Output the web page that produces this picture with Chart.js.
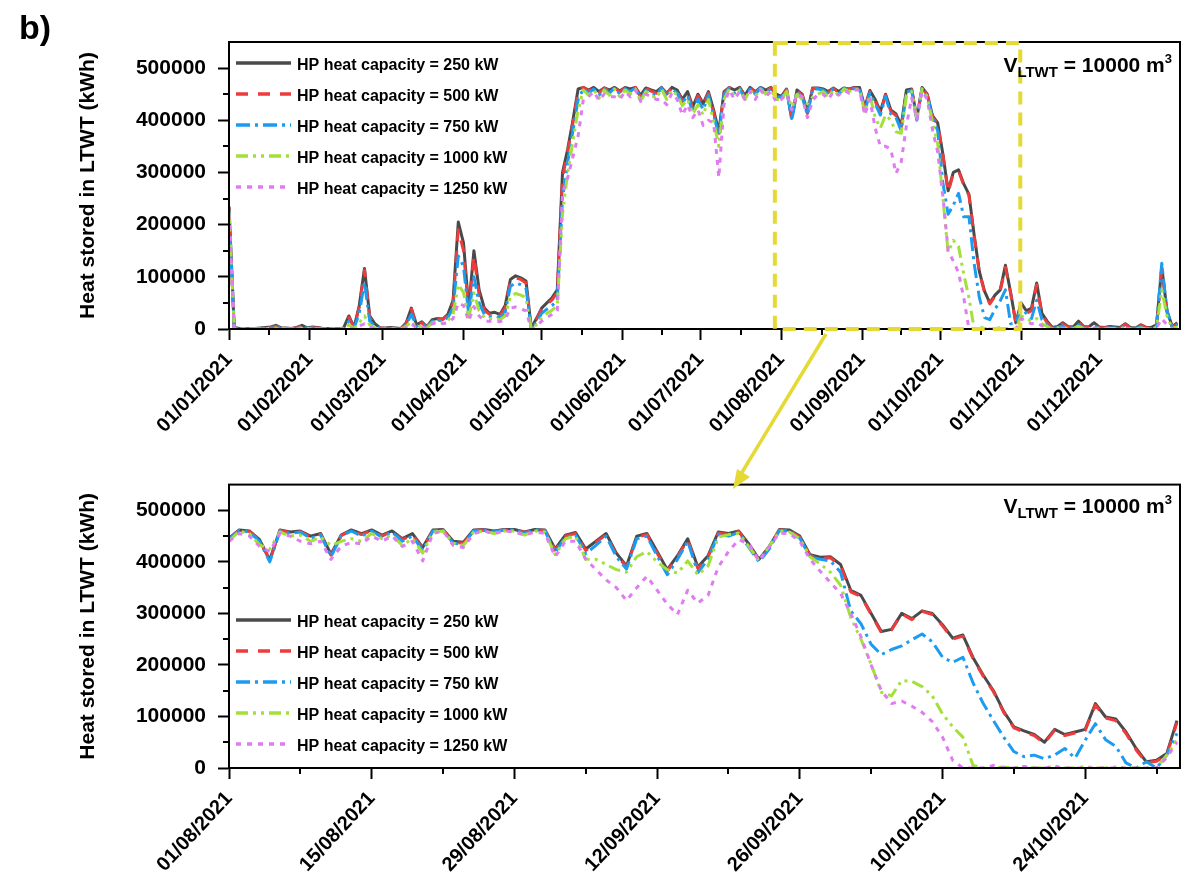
<!DOCTYPE html>
<html>
<head>
<meta charset="utf-8">
<title>Heat stored in LTWT</title>
<script src="https://cdn.jsdelivr.net/npm/chart.js@4.4.0/dist/chart.umd.min.js"></script>
<style>
    html, body { margin: 0; padding: 0; background: #ffffff; }
    #page { position: relative; width: 1194px; height: 886px; overflow: hidden; }
    .chart-box { position: absolute; left: 0; width: 1194px; }
    #yearBox { top: 0; height: 460px; }
    #zoomBox { top: 460px; height: 426px; }
    #arrow { position: absolute; left: 0; top: 0; pointer-events: none; }
</style>
</head>
<body>
<div id="page">
    <div class="chart-box" id="yearBox"><canvas id="yearChart" width="1194" height="460"></canvas></div>
    <div class="chart-box" id="zoomBox"><canvas id="zoomChart" width="1194" height="426"></canvas></div>
    <svg id="arrow" width="1194" height="886">
        <line x1="826" y1="334" x2="741" y2="474" stroke="#e5d935" stroke-width="3.5"/>
        <polygon points="733,489 750,477 737,469" fill="#e5d935"/>
    </svg>
</div>

<script>
// Heat stored in the LTWT - full year and Aug-Oct detail

const FAMILY = '"Liberation Sans", Arial, Helvetica, sans-serif';

// Axis categories
const monthStartDays = [0, 31, 59, 90, 120, 151, 181, 212, 243, 273, 304, 334];
const monthTickLabels = ['01/01/2021', '01/02/2021', '01/03/2021', '01/04/2021', '01/05/2021', '01/06/2021',
    '01/07/2021', '01/08/2021', '01/09/2021', '01/10/2021', '01/11/2021', '01/12/2021'];
const zoomTickDays = [0, 14, 28, 42, 56, 70, 84];
const zoomTickLabels = ['01/08/2021', '15/08/2021', '29/08/2021', '12/09/2021', '26/09/2021', '10/10/2021', '24/10/2021'];
const yTickValues = [0, 100000, 200000, 300000, 400000, 500000];

const seriesLabels = [
    'HP heat capacity = 250 kW',
    'HP heat capacity = 500 kW',
    'HP heat capacity = 750 kW',
    'HP heat capacity = 1000 kW',
    'HP heat capacity = 1250 kW'
];

// Full year 2021, one value every 2 days starting 01/01 (kWh)
const year250 = [
    235000, 3000, 1000, 0, 1000, 1000, 2000, 3000, 4000, 7000,
    2000, 2000, 1000, 3000, 7000, 2000, 4000, 3000, 1000, 1000,
    0, 0, 2000, 25000, 3000, 45000, 116000, 25000, 10000, 2000,
    2000, 3000, 2000, 1000, 12000, 40000, 8000, 14000, 4000, 18000,
    20000, 19000, 28000, 55000, 205000, 165000, 40000, 150000, 75000, 40000,
    30000, 32000, 28000, 45000, 95000, 102000, 98000, 92000, 2000, 20000,
    40000, 50000, 60000, 75000, 300000, 345000, 400000, 460000, 463000, 458000,
    463000, 455000, 462000, 458000, 463000, 456000, 463000, 460000, 463000, 448000,
    462000, 458000, 455000, 463000, 452000, 463000, 458000, 440000, 455000, 426000,
    450000, 432000, 455000, 420000, 378000, 455000, 463000, 458000, 463000, 448000,
    463000, 455000, 463000, 458000, 463000, 450000, 446000, 460000, 404000, 458000,
    450000, 415000, 462000, 462000, 460000, 455000, 462000, 455000, 462000, 460000,
    463000, 463000, 425000, 457000, 440000, 417000, 450000, 420000, 412000, 390000,
    458000, 460000, 405000, 463000, 450000, 409000, 395000, 335000, 265000, 300000,
    305000, 278000, 258000, 180000, 110000, 72000, 50000, 65000, 75000, 122000,
    70000, 12000, 50000, 35000, 40000, 88000, 30000, 15000, 3000, 5000,
    12000, 5000, 4000, 15000, 5000, 4000, 12000, 4000, 3000, 5000,
    4000, 3000, 10000, 3000, 2000, 8000, 3000, 3000, 8000, 119000,
    35000, 5000, 12000
];
const year500 = [
    232000, 2000, 1000, 0, 1000, 1000, 1000, 2000, 3000, 5000,
    2000, 1000, 1000, 2000, 6000, 2000, 3000, 2000, 1000, 1000,
    0, 0, 1000, 22000, 3000, 42000, 113000, 22000, 8000, 2000,
    1000, 2000, 1000, 1000, 10000, 38000, 7000, 12000, 4000, 17000,
    19000, 18000, 26000, 50000, 190000, 150000, 36000, 140000, 65000, 36000,
    28000, 30000, 26000, 40000, 92000, 98000, 95000, 88000, 1000, 18000,
    38000, 47000, 56000, 70000, 290000, 340000, 395000, 455000, 463000, 456000,
    462000, 452000, 462000, 456000, 463000, 454000, 462000, 458000, 463000, 445000,
    461000, 456000, 452000, 463000, 450000, 462000, 456000, 436000, 452000, 422000,
    447000, 428000, 452000, 415000, 375000, 452000, 463000, 456000, 462000, 445000,
    462000, 453000, 463000, 456000, 462000, 448000, 445000, 459000, 402000, 457000,
    448000, 413000, 461000, 461000, 459000, 453000, 461000, 453000, 462000, 459000,
    462000, 462000, 422000, 455000, 437000, 414000, 448000, 417000, 409000, 386000,
    456000, 459000, 402000, 462000, 448000, 407000, 392000, 333000, 262000, 298000,
    303000, 276000, 256000, 178000, 108000, 70000, 48000, 63000, 73000, 118000,
    68000, 10000, 45000, 30000, 35000, 85000, 28000, 12000, 2000, 5000,
    10000, 4000, 3000, 13000, 4000, 3000, 10000, 3000, 2000, 4000,
    3000, 2000, 9000, 2000, 2000, 7000, 2000, 2000, 6000, 116000,
    32000, 4000, 10000
];
const year750 = [
    228000, 2000, 0, 0, 0, 1000, 1000, 1000, 2000, 3000,
    1000, 1000, 0, 1000, 4000, 1000, 2000, 1000, 0, 0,
    0, 0, 1000, 15000, 2000, 30000, 90000, 15000, 5000, 1000,
    1000, 1000, 1000, 0, 8000, 28000, 5000, 9000, 3000, 15000,
    17000, 15000, 22000, 40000, 140000, 120000, 28000, 100000, 50000, 28000,
    24000, 25000, 22000, 32000, 82000, 88000, 85000, 78000, 1000, 12000,
    30000, 38000, 45000, 55000, 250000, 320000, 380000, 440000, 460000, 452000,
    460000, 448000, 460000, 452000, 462000, 450000, 460000, 455000, 462000, 440000,
    458000, 452000, 448000, 462000, 445000, 460000, 452000, 432000, 448000, 415000,
    440000, 420000, 448000, 410000, 372000, 448000, 462000, 452000, 460000, 442000,
    460000, 450000, 462000, 454000, 460000, 445000, 444000, 458000, 400000, 455000,
    445000, 410000, 460000, 460000, 458000, 450000, 460000, 450000, 461000, 458000,
    461000, 461000, 418000, 452000, 432000, 410000, 445000, 412000, 405000, 380000,
    454000, 457000, 400000, 461000, 446000, 405000, 380000, 280000, 220000, 237000,
    260000, 215000, 215000, 125000, 60000, 22000, 18000, 38000, 54000, 75000,
    10000, 12000, 40000, 30000, 20000, 55000, 18000, 8000, 1000, 3000,
    6000, 2000, 2000, 8000, 2000, 1000, 6000, 2000, 1000, 2000,
    2000, 1000, 5000, 1000, 1000, 4000, 1000, 1000, 5000, 126000,
    35000, 3000, 8000
];
const year1000 = [
    225000, 1000, 0, 0, 0, 0, 0, 1000, 1000, 2000,
    1000, 0, 0, 1000, 2000, 1000, 1000, 0, 0, 0,
    0, 0, 0, 8000, 1000, 12000, 25000, 8000, 2000, 0,
    0, 1000, 0, 0, 5000, 15000, 3000, 6000, 2000, 12000,
    14000, 12000, 16000, 28000, 85000, 70000, 20000, 69000, 35000, 22000,
    20000, 20000, 18000, 25000, 62000, 68000, 65000, 60000, 0, 8000,
    22000, 30000, 36000, 45000, 220000, 300000, 360000, 420000, 458000, 448000,
    458000, 442000, 458000, 448000, 460000, 445000, 458000, 450000, 460000, 436000,
    455000, 448000, 442000, 460000, 440000, 458000, 448000, 428000, 440000, 412000,
    430000, 410000, 440000, 398000, 350000, 440000, 460000, 448000, 458000, 440000,
    458000, 446000, 460000, 450000, 458000, 440000, 440000, 455000, 425000, 450000,
    440000, 432000, 445000, 450000, 455000, 445000, 458000, 448000, 460000, 455000,
    460000, 460000, 414000, 448000, 405000, 385000, 410000, 400000, 378000, 375000,
    448000, 455000, 402000, 460000, 445000, 396000, 355000, 250000, 147000, 170000,
    158000, 105000, 60000, 0, 2000, 3000, 0, 0, 3000, 0,
    0, 0, 25000, 20000, 15000, 20000, 10000, 5000, 0, 2000,
    3000, 1000, 1000, 5000, 1000, 0, 3000, 1000, 0, 1000,
    1000, 0, 3000, 0, 0, 2000, 0, 0, 3000, 75000,
    25000, 1000, 4000
];
const year1250 = [
    220000, 1000, 0, 0, 0, 0, 0, 0, 1000, 1000,
    0, 0, 0, 0, 1000, 0, 1000, 0, 0, 0,
    0, 0, 0, 4000, 0, 6000, 10000, 4000, 1000, 0,
    0, 0, 0, 0, 3000, 10000, 2000, 4000, 1000, 10000,
    12000, 10000, 12000, 20000, 50000, 45000, 15000, 43000, 25000, 15000,
    15000, 15000, 14000, 18000, 40000, 42000, 38000, 35000, 0, 5000,
    15000, 22000, 28000, 35000, 260000, 290000, 330000, 370000, 440000, 445000,
    455000, 438000, 450000, 445000, 445000, 440000, 455000, 445000, 458000, 436000,
    450000, 445000, 440000, 440000, 430000, 452000, 440000, 410000, 430000, 405000,
    420000, 390000, 400000, 395000, 290000, 430000, 458000, 440000, 455000, 440000,
    455000, 440000, 458000, 445000, 455000, 435000, 440000, 450000, 420000, 450000,
    445000, 405000, 438000, 450000, 450000, 440000, 455000, 448000, 458000, 452000,
    458000, 458000, 410000, 440000, 385000, 350000, 350000, 345000, 298000, 320000,
    390000, 443000, 402000, 456000, 440000, 382000, 339000, 255000, 150000, 130000,
    108000, 60000, 0, 0, 0, 0, 3000, 0, 0, 0,
    0, 0, 20000, 15000, 10000, 12000, 6000, 3000, 0, 1000,
    2000, 0, 0, 3000, 0, 0, 2000, 0, 0, 0,
    0, 0, 2000, 0, 0, 1000, 0, 0, 2000, 20000,
    8000, 0, 2000
];

// Detail 01/08 - 02/11, one value per day (kWh)
const zoom250 = [
    446000, 462000, 460000, 443000, 404000, 462000, 458000, 460000, 450000, 455000,
    415000, 452000, 462000, 455000, 462000, 452000, 460000, 445000, 455000, 428000,
    462000, 463000, 440000, 438000, 462000, 463000, 460000, 463000, 463000, 458000,
    463000, 462000, 425000, 452000, 457000, 425000, 440000, 455000, 417000, 392000,
    450000, 455000, 420000, 385000, 412000, 445000, 390000, 412000, 458000, 455000,
    460000, 435000, 405000, 430000, 463000, 462000, 450000, 414000, 409000, 410000,
    395000, 345000, 335000, 300000, 265000, 269000, 300000, 290000, 305000, 300000,
    278000, 252000, 258000, 214000, 180000, 150000, 110000, 80000, 72000, 65000,
    50000, 75000, 65000, 70000, 75000, 125000, 99000, 95000, 70000, 38000,
    12000, 15000, 28000, 92000
];
const zoom500 = [
    445000, 462000, 459000, 442000, 403000, 461000, 457000, 459000, 448000, 454000,
    413000, 451000, 461000, 453000, 461000, 450000, 459000, 443000, 453000, 426000,
    461000, 462000, 438000, 436000, 461000, 462000, 459000, 462000, 462000, 457000,
    462000, 461000, 423000, 450000, 455000, 422000, 438000, 453000, 414000, 390000,
    448000, 453000, 417000, 382000, 410000, 443000, 387000, 410000, 456000, 453000,
    459000, 432000, 403000, 428000, 462000, 461000, 448000, 412000, 407000, 408000,
    392000, 342000, 333000, 298000, 263000, 268000, 299000, 288000, 304000, 298000,
    276000, 250000, 256000, 212000, 178000, 148000, 108000, 78000, 70000, 63000,
    48000, 73000, 63000, 68000, 73000, 122000, 97000, 92000, 67000, 35000,
    10000, 13000, 25000, 88000
];
const zoom750 = [
    444000, 461000, 458000, 440000, 400000, 460000, 455000, 458000, 446000, 452000,
    410000, 450000, 460000, 450000, 460000, 448000, 458000, 440000, 450000, 422000,
    460000, 462000, 436000, 434000, 460000, 462000, 458000, 462000, 462000, 455000,
    462000, 460000, 418000, 448000, 452000, 416000, 432000, 450000, 410000, 386000,
    445000, 450000, 412000, 375000, 405000, 440000, 379000, 405000, 454000, 450000,
    457000, 428000, 400000, 425000, 461000, 460000, 446000, 410000, 405000, 402000,
    380000, 305000, 280000, 240000, 220000, 230000, 237000, 249000, 260000, 245000,
    215000, 205000, 215000, 165000, 125000, 92000, 60000, 32000, 22000, 25000,
    18000, 25000, 38000, 19000, 54000, 86000, 55000, 42000, 10000, 0,
    12000, 0, 25000, 67000
];
const zoom1000 = [
    440000, 460000, 455000, 433000, 425000, 458000, 450000, 452000, 440000, 448000,
    432000, 440000, 445000, 440000, 455000, 445000, 452000, 432000, 445000, 417000,
    458000, 460000, 436000, 432000, 458000, 460000, 455000, 460000, 460000, 452000,
    460000, 458000, 414000, 445000, 450000, 405000, 405000, 395000, 385000, 380000,
    410000, 420000, 400000, 385000, 378000, 402000, 375000, 392000, 448000, 453000,
    455000, 430000, 402000, 430000, 460000, 458000, 445000, 410000, 396000, 380000,
    355000, 292000, 250000, 201000, 147000, 140000, 170000, 168000, 158000, 140000,
    105000, 80000, 60000, 5000, 0, 0, 2000, 0, 3000, 0,
    0, 4000, 0, 0, 3000, 0, 0, 2000, 0, 0,
    0, 0, 25000, 54000
];
const zoom1250 = [
    440000, 455000, 450000, 430000, 420000, 455000, 450000, 440000, 435000, 440000,
    405000, 430000, 438000, 435000, 450000, 440000, 450000, 430000, 440000, 402000,
    455000, 460000, 432000, 428000, 455000, 460000, 455000, 460000, 458000, 452000,
    458000, 455000, 410000, 440000, 440000, 405000, 385000, 365000, 350000, 325000,
    350000, 372000, 345000, 318000, 298000, 345000, 320000, 335000, 390000, 420000,
    443000, 435000, 402000, 430000, 456000, 455000, 440000, 405000, 382000, 360000,
    339000, 300000, 255000, 200000, 150000, 125000, 130000, 120000, 108000, 90000,
    60000, 15000, 0, 0, 0, 5000, 0, 0, 3000, 0,
    0, 2000, 0, 0, 0, 0, 0, 0, 0, 0,
    0, 0, 20000, 50000
];

// Line styles per series
const seriesColors = ['#4a4a4a', '#ee3b3b', '#1c9cf0', '#a3e03a', '#e07cf2'];
const seriesDashes = [[], [12, 10], [14, 5, 3, 5], [12, 5, 3, 5, 3, 5], [5, 6]];

Chart.defaults.font.family = FAMILY;
Chart.defaults.color = '#000';

// midpoints between major ticks, used for the small ticks
function midpoints(values, last) {
    const out = [];
    for (let i = 0; i < values.length; i++) {
        const next = i + 1 < values.length ? values[i + 1] : last;
        out.push((values[i] + next) / 2);
    }
    return out;
}

// Frame, small ticks, legend, volume note, zoom box
const decorPlugin = {
    id: 'decor',
    afterDraw(chart, args, opts) {
        const {ctx, chartArea: a, scales: {x, y}} = chart;
        ctx.save();
        ctx.strokeStyle = '#000';
        ctx.lineWidth = 2;

        // minor ticks
        ctx.beginPath();
        opts.minorX.forEach(v => {
            const px = Math.round(x.getPixelForValue(v));
            ctx.moveTo(px, a.bottom);
            ctx.lineTo(px, a.bottom + 6);
        });
        opts.minorY.forEach(v => {
            const py = Math.round(y.getPixelForValue(v));
            ctx.moveTo(a.left - 6, py);
            ctx.lineTo(a.left, py);
        });
        ctx.stroke();

        // plot frame
        ctx.strokeRect(a.left, a.top, a.right - a.left, a.bottom - a.top);

        // yellow dashed box marking the detail period
        if (opts.zoomBox) {
            const x0 = x.getPixelForValue(opts.zoomBox[0]);
            const x1 = x.getPixelForValue(opts.zoomBox[1]);
            ctx.strokeStyle = '#e5d935';
            ctx.lineWidth = 4;
            ctx.setLineDash([13, 8]);
            ctx.strokeRect(x0, a.top + 1, x1 - x0, a.bottom - a.top - 1);
            ctx.setLineDash([]);
        }

        // legend
        const lg = opts.legend;
        ctx.textAlign = 'left';
        ctx.textBaseline = 'middle';
        ctx.font = 'bold 16px ' + FAMILY;
        chart.data.datasets.forEach((ds, i) => {
            const rowY = lg.y + i * lg.gap;
            ctx.strokeStyle = ds.borderColor;
            ctx.lineWidth = 3.5;
            ctx.setLineDash(ds.borderDash);
            ctx.beginPath();
            ctx.moveTo(lg.x, rowY - 3);
            ctx.lineTo(lg.x + 55, rowY - 3);
            ctx.stroke();
            ctx.setLineDash([]);
            ctx.fillStyle = '#000';
            ctx.fillText(ds.label, lg.x + 61, rowY);
        });

        // V_LTWT = 10000 m3
        const parts = [
            ['V', 'bold 21px ' + FAMILY, 0],
            ['LTWT', 'bold 15px ' + FAMILY, 5],
            [' = 10000 m', 'bold 21px ' + FAMILY, 0],
            ['3', 'bold 13px ' + FAMILY, -9]
        ];
        ctx.textBaseline = 'alphabetic';
        let total = 0;
        parts.forEach(p => { ctx.font = p[1]; total += ctx.measureText(p[0]).width; });
        let cx = a.right - 8 - total;
        parts.forEach(p => {
            ctx.font = p[1];
            ctx.fillText(p[0], cx, a.top + opts.noteY + p[2]);
            cx += ctx.measureText(p[0]).width;
        });

        // panel tag
        if (opts.tag) {
            ctx.font = 'bold 34px ' + FAMILY;
            ctx.fillText(opts.tag, 19, 39);
        }
        ctx.restore();
    }
};

function buildDatasets(seriesList, step) {
    return seriesList.map((values, i) => ({
        label: seriesLabels[i],
        data: values.map((v, k) => ({x: k * step, y: v})),
        borderColor: seriesColors[i],
        borderDash: seriesDashes[i],
        borderWidth: 3,
        borderJoinStyle: 'round',
        pointRadius: 0,
        tension: 0,
        fill: false,
        order: seriesLabels.length - i
    }));
}

function axisLook() {
    return {
        grid: {drawOnChartArea: false, drawTicks: true, tickLength: 11, tickWidth: 2, tickColor: '#000'},
        border: {display: true, color: '#000', width: 2}
    };
}

function createChart(canvasId, cfg) {
    const tickFont = {family: FAMILY, size: 21, weight: 'bold'};
    return new Chart(document.getElementById(canvasId), {
        type: 'line',
        data: {datasets: buildDatasets(cfg.series, cfg.step)},
        options: {
            responsive: false,
            animation: false,
            events: [],
            layout: {padding: {left: 70, top: cfg.padTop, right: 14, bottom: 0}},
            scales: {
                x: {
                    type: 'linear',
                    min: 0,
                    max: cfg.xMax,
                    ...axisLook(),
                    afterFit: s => { s.height = cfg.xAxisHeight; },
                    afterBuildTicks: s => { s.ticks = cfg.tickDays.map(v => ({value: v})); },
                    ticks: {
                        autoSkip: false,
                        minRotation: 47,
                        maxRotation: 47,
                        padding: 8,
                        color: '#000',
                        font: {family: FAMILY, size: 20, weight: 'bold'},
                        callback: (v, i) => cfg.tickLabels[i]
                    }
                },
                y: {
                    min: 0,
                    max: 550000,
                    ...axisLook(),
                    afterFit: s => { s.width = 159; },
                    afterBuildTicks: s => { s.ticks = yTickValues.map(v => ({value: v})); },
                    ticks: {padding: 12, color: '#000', font: tickFont, callback: v => String(v)},
                    title: {
                        display: true,
                        text: 'Heat stored in LTWT (kWh)',
                        color: '#000',
                        font: {family: FAMILY, size: 21, weight: 'bold'},
                        padding: {top: 6, bottom: 0}
                    }
                }
            },
            plugins: {
                legend: {display: false},
                tooltip: {enabled: false},
                decor: {
                    minorX: cfg.minorX,
                    minorY: [50000, 150000, 250000, 350000, 450000],
                    legend: cfg.legend,
                    noteY: cfg.noteY,
                    zoomBox: cfg.zoomBox || null,
                    tag: cfg.tag || ''
                }
            }
        },
        plugins: [decorPlugin]
    });
}

createChart('yearChart', {
    series: [year250, year500, year750, year1000, year1250],
    step: 2,
    xMax: 365,
    padTop: 42,
    xAxisHeight: 131,
    tickDays: monthStartDays,
    tickLabels: monthTickLabels,
    minorX: midpoints(monthStartDays, 365),
    legend: {x: 236, y: 66, gap: 31},
    noteY: 30,
    zoomBox: [209.5, 303.7],
    tag: 'b)'
});

createChart('zoomChart', {
    series: [zoom250, zoom500, zoom750, zoom1000, zoom1250],
    step: 1,
    xMax: 93.3,
    padTop: 22,
    xAxisHeight: 118,
    tickDays: zoomTickDays,
    tickLabels: zoomTickLabels,
    minorX: midpoints(zoomTickDays, 98),
    legend: {x: 236, y: 163, gap: 31},
    noteY: 28
});
</script>
</body>
</html>
